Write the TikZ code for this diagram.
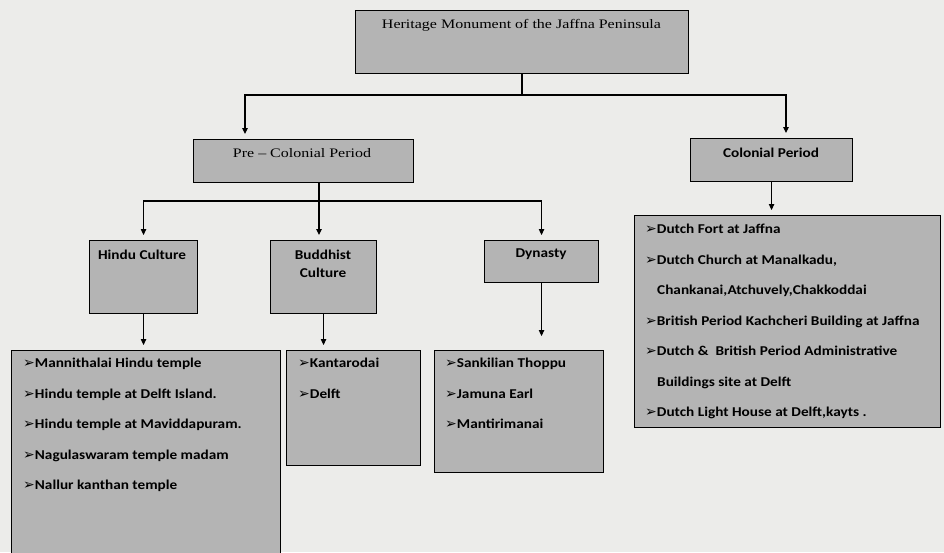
\documentclass[tikz,border=0pt]{standalone}
\usepackage{fontspec}
\setmainfont{Carlito}[FakeStretch=1.13]
\newfontfamily\titlefont{Liberation Serif}[FakeStretch=1.23]
\newfontfamily\symfont{DejaVu Sans}
\usetikzlibrary{arrows.meta}
\definecolor{boxgray}{RGB}{180,180,180}
\definecolor{paper}{RGB}{236,236,234}
\newcommand{\itm}{{\symfont\fontsize{14}{14}\selectfont ➢}}

\tikzset{
  box/.style={draw=black, line width=1.1pt, fill=boxgray, anchor=north west, inner sep=0pt},
  head/.style={font=\titlefont\fontsize{13}{15}\selectfont, inner sep=0pt},
  sub/.style={font=\bfseries\fontsize{13.5}{18}\selectfont, align=center, inner sep=0pt},
  items/.style={font=\bfseries\fontsize{13.5}{30.5}\selectfont, align=left, anchor=north west, inner sep=0pt},
  link/.style={line width=1.1pt},
  arr/.style={link, -{Triangle[length=6pt,width=5.5pt]}, shorten >=5pt},
}

\begin{document}
\begin{tikzpicture}[x=1pt, y=-1pt]
          \useasboundingbox (0,0) rectangle (944,552);
          \fill[paper] (0,0) rectangle (944,552);
          \clip (0,0) rectangle (944,552);
          % boxes
          \node[box, minimum width=333pt, minimum height=63pt]  (top)   at (355,10)  {};
          \node[box, minimum width=220pt, minimum height=43pt]  (pre)   at (193,139) {};
          \node[box, minimum width=162pt, minimum height=43pt]  (col)   at (690,138) {};
          \node[box, minimum width=108pt, minimum height=73pt]  (hindu) at (89,240)  {};
          \node[box, minimum width=106pt, minimum height=73pt]  (budd)  at (270,240) {};
          \node[box, minimum width=114pt, minimum height=42pt]  (dyn)   at (484,240) {};
          \node[box, minimum width=269pt, minimum height=220pt] (hlist) at (11,350)  {};
          \node[box, minimum width=134pt, minimum height=115pt] (blist) at (286,350) {};
          \node[box, minimum width=169pt, minimum height=122pt] (dlist) at (434,350) {};
          \node[box, minimum width=306pt, minimum height=212pt] (clist) at (634,215) {};
          % titles
          \node[head] (toptxt) at (521.5,25) {Heritage Monument of the Jaffna Peninsula};
          \node[head] (pretxt) at (302,153)  {Pre – Colonial Period};
          \node[sub]  (coltxt) at (771,153)  {Colonial Period};
          \node[sub]  (hindutxt) at (142,255) {Hindu Culture};
          \node[sub]  (buddtxt)  at (323,264) {Buddhist\\Culture};
          \node[sub]  (dyntxt)   at (541,254) {Dynasty};
          % lists
          \node[items] (hitems) at (23,358) {\itm Mannithalai Hindu temple\\
            \itm Hindu temple at Delft Island.\\
            \itm Hindu temple at Maviddapuram.\\
            \itm Nagulaswaram temple madam\\
            \itm Nallur kanthan temple};
          \node[items] (bitems) at (298,358) {\itm Kantarodai\\
            \itm Delft};
          \node[items] (ditems) at (445,358) {\itm Sankilian Thoppu\\
            \itm Jamuna Earl\\
            \itm Mantirimanai};
          \node[items] (citems) at (645,224) {\itm Dutch Fort at Jaffna\\
            \itm Dutch Church at Manalkadu,\\
            \hspace{12pt}Chankanai,Atchuvely,Chakkoddai\\
            \itm British Period Kachcheri Building at Jaffna\\
            \itm Dutch \&\ \ British Period Administrative\\
            \hspace{12pt}Buildings site at Delft\\
            \itm Dutch Light House at Delft,kayts .};
          % connectors
          \coordinate (t0) at (522,95);
          \coordinate (preIn) at (245,139);
          \coordinate (colIn) at (786,138);
          \coordinate (p0) at (319,201);
          \draw[link] (t0 |- top.south) -- (t0);
          \draw[arr] (t0) -| (preIn);
          \draw[arr] (t0) -| (colIn);
          \draw[link] (p0 |- pre.south) -- (p0);
          \draw[arr] (p0) -| (hindu.north);
          \draw[arr] (p0) -- (p0 |- budd.north);
          \draw[arr] (p0) -| (dyn.north);
          \draw[arr] (hindu.south) -- (hlist.north -| hindu.south);
          \draw[arr] (budd.south) -- (blist.north -| budd.south);
          \draw[arr, shorten >=14pt] (dyn.south) -- (dlist.north -| dyn.south);
          \draw[arr] (col.south) -- (clist.north -| col.south);
\end{tikzpicture}
\end{document}
